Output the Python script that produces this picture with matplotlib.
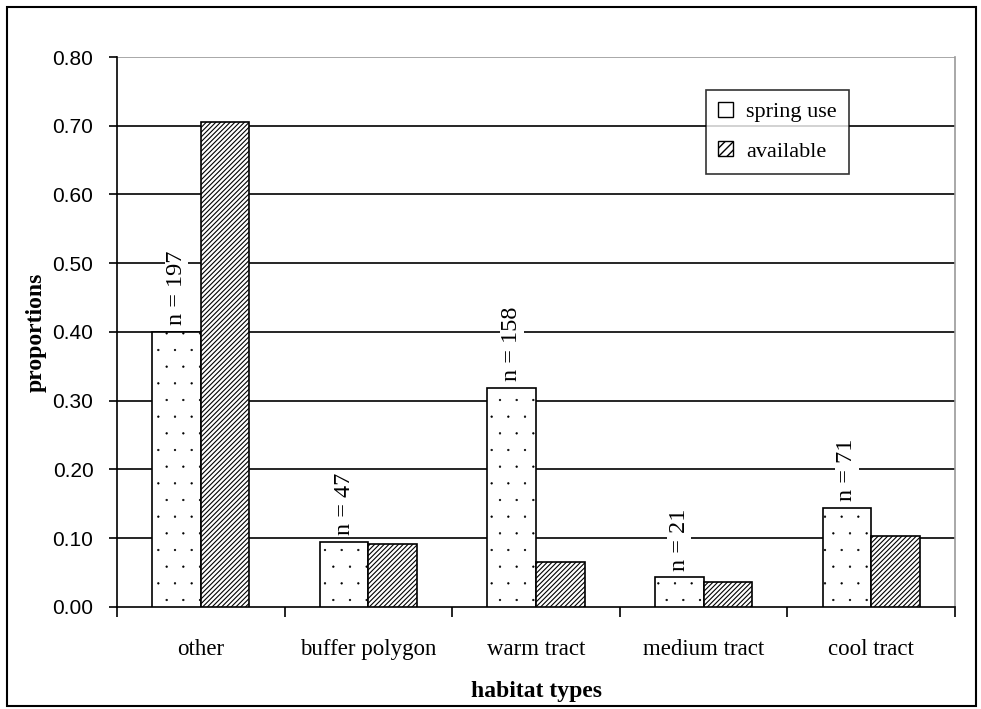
import numpy as np
import matplotlib
matplotlib.use("Agg")
import matplotlib.pyplot as plt
import matplotlib.hatch as mhatch
from matplotlib.patches import Rectangle, Patch

# habitat use vs availability
habitats = ["other", "buffer polygon", "warm tract", "medium tract", "cool tract"]
spring_use = [0.40, 0.094, 0.318, 0.043, 0.1435]
available = [0.705, 0.091, 0.066, 0.036, 0.103]
n_counts = [197, 47, 158, 21, 71]
y_ticks = [0.0, 0.1, 0.2, 0.3, 0.4, 0.5, 0.6, 0.7, 0.8]

# tiny stipple dots for the spring-use bars
mhatch.SmallFilledCircles.size = 0.05
serif = "Liberation Serif"

fig = plt.figure(figsize=(9.81, 7.09), dpi=100)
ax = fig.add_axes([0.1193, 0.1439, 0.8542, 0.7757])

# outer border around the whole chart
fig.patches.append(Rectangle((7 / 981, 3 / 709), 969 / 981, 699 / 709,
                             transform=fig.transFigure, fill=False,
                             edgecolor="black", linewidth=1.5))

x = np.arange(len(habitats))
w = 0.29
use_bars = ax.bar(x - w / 2, spring_use, w, color="white", edgecolor="black",
                  hatch=".", linewidth=1.2, zorder=3)
avail_bars = ax.bar(x + w / 2, available, w, color="white", edgecolor="black",
                    hatch="///////", linewidth=1.2, zorder=3)
for b in use_bars:
    b.set_hatch_linewidth(0.4)
for b in avail_bars:
    b.set_hatch_linewidth(0.8)

# sample size above each spring-use bar
for xi, v, n in zip(x, spring_use, n_counts):
    ax.text(xi - w / 2, v + 0.01, f"n = {n}", rotation=90, ha="center",
            va="bottom", family=serif, fontsize=17.5, zorder=4,
            bbox=dict(facecolor="white", edgecolor="none", pad=1))

ax.set_xlim(-0.5, len(habitats) - 0.5)
ax.set_ylim(0, 0.8)
ax.set_yticks(y_ticks)
ax.set_yticklabels([f"{t:.2f}" for t in y_ticks], family="Liberation Sans",
                   fontsize=15)
ax.set_xticks(x)
ax.set_xticklabels(habitats, family=serif, fontsize=16.5)
ax.set_xticks(np.arange(len(habitats) + 1) - 0.5, minor=True)
ax.tick_params(axis="x", which="major", length=0, pad=23)
ax.tick_params(axis="x", which="minor", length=7, width=1.2, direction="out")
ax.tick_params(axis="y", length=6, width=1.2, direction="out", pad=11)

# gridlines: black, top line grey
for t in y_ticks[1:-1]:
    ax.axhline(t, color="black", linewidth=1.2, zorder=1)
ax.axhline(0.8, color="#999999", linewidth=1.2, zorder=1)

ax.spines["top"].set_visible(False)
ax.spines["right"].set_color("#999999")
for side in ["left", "bottom", "right"]:
    ax.spines[side].set_linewidth(1.2)

ax.set_ylabel("proportions", family=serif, fontweight="bold", fontsize=17,
              labelpad=4)
ax.set_xlabel("habitat types", family=serif, fontweight="bold", fontsize=17,
              labelpad=15)

handles = [Patch(facecolor="white", edgecolor="black"),
           Patch(facecolor="white", edgecolor="black", hatch="////")]
leg = ax.legend(handles, ["spring use", "available"], loc="upper left",
                bbox_to_anchor=(0.703, 0.94), prop={"family": serif, "size": 16},
                frameon=True, fancybox=False, handlelength=0.65, handleheight=0.65,
                handletextpad=0.6, labelspacing=0.85, borderpad=0.55,
                borderaxespad=0)
leg.get_frame().set_edgecolor("black")
leg.get_frame().set_linewidth(1.2)
leg.set_zorder(5)

fig.savefig("out.png", dpi=100)
